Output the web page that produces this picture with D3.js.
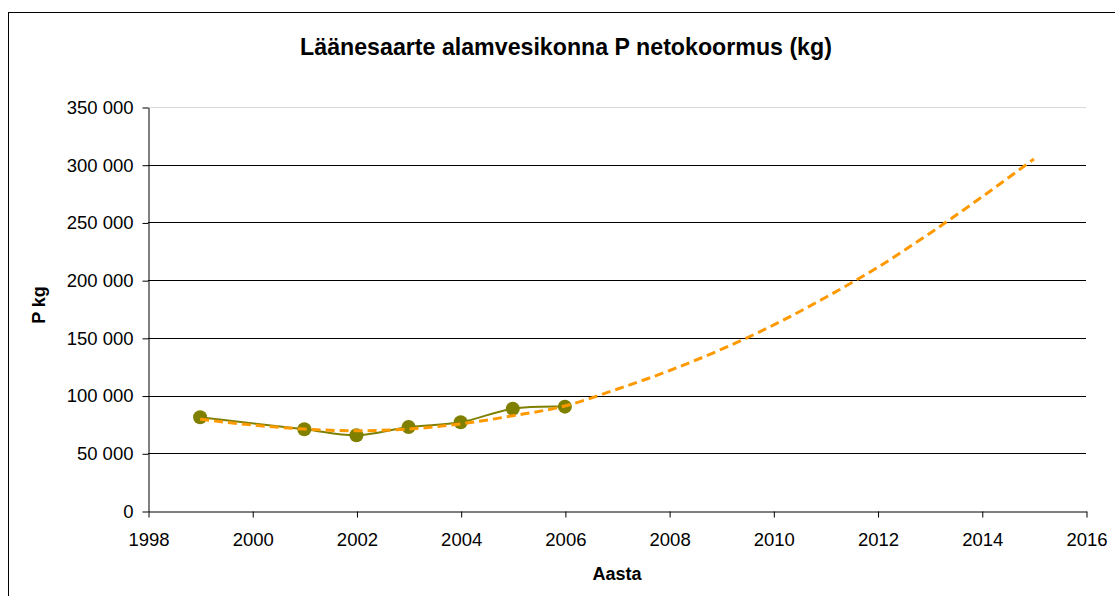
<!DOCTYPE html>
<meta charset="utf-8">
<script src="https://d3js.org/d3.v7.min.js"></script>
<body style="margin: 0; background: white;">
<svg id="vis"></svg>
<script>

  // Measured points (Aasta, P kg)
  var years = [1999, 2001, 2002, 2003, 2004, 2005, 2006]
  var loads = [81200, 70800, 65600, 72800, 76900, 88600, 90400]

  // Trend line
  var trendYears = [1999, 2000, 2001, 2002, 2003, 2004, 2005, 2006, 2007, 2008, 2009, 2010, 2011, 2012, 2013, 2014, 2015]
  var trendLoads = [79500, 74500, 71000, 69500, 71000, 75500, 82500, 91000, 105500, 121500, 140000, 161000, 185000, 211000, 240500, 272000, 305000]

  var xTicks = [1998, 2000, 2002, 2004, 2006, 2008, 2010, 2012, 2014, 2016]
  var yTicks = [0, 50000, 100000, 150000, 200000, 250000, 300000, 350000]

  var W = 1115, H = 596
  var plotLeft = 148, plotRight = 1086, plotTop = 107, plotBottom = 511
  var font = 'Liberation Sans, Arial, sans-serif'

  var svg = d3.select('#vis')
    .attr('width', W)
    .attr('height', H)
    .style('display', 'block')

  // Chart frame (runs off the right and bottom edges)
  svg.append('rect')
    .attr('x', 8.5).attr('y', 12.5)
    .attr('width', W + 10).attr('height', H + 10)
    .attr('fill', 'white')
    .attr('stroke', 'black')
    .attr('stroke-width', 1)

  var x = d3.scaleLinear().domain([1998, 2016]).range([plotLeft, plotRight])
  var y = d3.scaleLinear().domain([0, 350000]).range([plotBottom, plotTop])

  var fmt = function(d) {
    return d3.format(',')(d).replace(/,/g, ' ')
  }

  // Gridlines
  svg.append('g')
    .selectAll('line')
    .data(yTicks.filter(function(d) { return d > 0 }))
    .enter()
    .append('line')
    .attr('x1', plotLeft).attr('x2', plotRight)
    .attr('y1', function(d) { return Math.round(y(d)) + 0.5 })
    .attr('y2', function(d) { return Math.round(y(d)) + 0.5 })
    .attr('stroke', function(d) { return d === 350000 ? '#d9d9d9' : 'black' })
    .attr('stroke-width', 1)

  // Axes
  var yAxis = svg.append('g')
    .attr('transform', 'translate(' + (plotLeft + 0.5) + ',0.5)')
    .call(d3.axisLeft(y).tickValues(yTicks).tickFormat(fmt).tickSizeInner(6).tickSizeOuter(0).tickPadding(9))
  var xAxis = svg.append('g')
    .attr('transform', 'translate(0.5,' + (plotBottom + 0.5) + ')')
    .call(d3.axisBottom(x).tickValues(xTicks).tickFormat(d3.format('d')).tickSizeInner(6).tickSizeOuter(0).tickPadding(15))

  ;[xAxis, yAxis].forEach(function(a) {
    a.selectAll('text')
      .style('font-family', font)
      .style('font-size', '18.5px')
      .attr('fill', 'black')
    a.selectAll('line, path').attr('stroke', 'black')
  })

  // Measured series
  var line = d3.line()
    .x(function(d, i) { return x(years[i]) })
    .y(function(d) { return y(d) })
    .curve(d3.curveCatmullRom.alpha(0.5))

  svg.append('path')
    .attr('d', line(loads))
    .attr('fill', 'none')
    .attr('stroke', '#808000')
    .attr('stroke-width', 2)

  svg.append('g')
    .selectAll('circle')
    .data(loads)
    .enter()
    .append('circle')
    .attr('cx', function(d, i) { return x(years[i]) })
    .attr('cy', function(d) { return y(d) })
    .attr('r', 7)
    .attr('fill', '#808000')

  // Trend line (dashed orange)
  var trend = d3.line()
    .x(function(d, i) { return x(trendYears[i]) })
    .y(function(d) { return y(d) })
    .curve(d3.curveMonotoneX)

  svg.append('path')
    .attr('d', trend(trendLoads))
    .attr('fill', 'none')
    .attr('stroke', '#FF9900')
    .attr('stroke-width', 3)
    .attr('stroke-dasharray', '9,5')

  // Titles
  svg.append('text')
    .text('Läänesaarte alamvesikonna P netokoormus (kg)')
    .attr('x', 566).attr('y', 55)
    .attr('text-anchor', 'middle')
    .style('font-family', font)
    .style('font-size', '23.2px')
    .style('font-weight', 700)

  svg.append('text')
    .text('Aasta')
    .attr('x', 617).attr('y', 580)
    .attr('text-anchor', 'middle')
    .style('font-family', font)
    .style('font-size', '18px')
    .style('font-weight', 700)

  svg.append('text')
    .text('P kg')
    .attr('transform', 'translate(45,305) rotate(-90)')
    .attr('text-anchor', 'middle')
    .style('font-family', font)
    .style('font-size', '18px')
    .style('font-weight', 700)

</script>
</body>
